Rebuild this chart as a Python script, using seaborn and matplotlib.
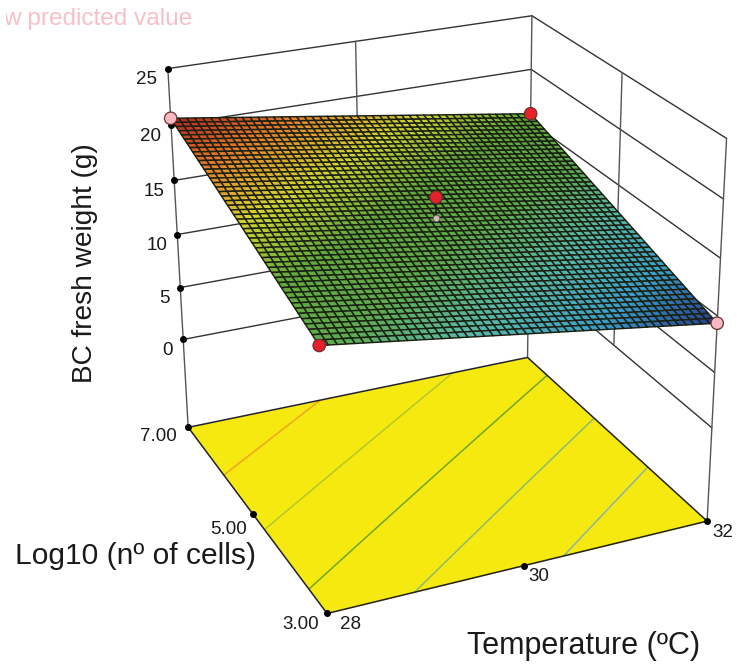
import numpy as np
import matplotlib
matplotlib.use("Agg")
import matplotlib.pyplot as plt
import matplotlib.transforms as mtrans
from mpl_toolkits.mplot3d import proj3d
import seaborn as sns

sns.set_theme(style="white")
plt.rcParams['font.family'] = ['Liberation Sans', 'DejaVu Sans']

# values
temp_ticks = [28, 30, 32]
cell_ticks = [3.0, 5.0, 7.0]
weight_ticks = [0, 5, 10, 15, 20, 25]
floor_z = -8.71

# surface height at the four corners
corner_temp = [28, 32]
corner_cells = [3.0, 7.0]
corner_weight = [[14.27, 9.37], [20.61, 15.79]]  # rows = cells, cols = temperature

# design points
point_temp = [28, 28, 32, 32, 30]
point_cells = [7.0, 3.0, 7.0, 3.0, 5.0]
point_weight = [20.61, 14.27, 15.79, 9.37, 16.80]
point_colors = ['#f6b9c2', '#e8202c', '#e8202c', '#f6b9c2', '#e8202c']
center_predicted = 15.01

contour_levels = [11.3, 13.2, 15.0, 16.9, 18.8]
contour_colors = ['#8cb4a8', '#8cbc6c', '#6fa62c', '#b4c82c', '#f0a424']

surface_cmap = sns.blend_palette(['#263a8c', '#3aa0cc', '#58b8a8', '#5eaa4c', '#62a83c',
                                  '#d4d42c', '#e88028', '#b82020'], as_cmap=True)

fig = plt.figure(figsize=(7.37, 6.65), dpi=100, facecolor='white')
ax = fig.add_subplot(projection='3d', computed_zorder=False)
ax.set_xlim(28, 32)
ax.set_ylim(3, 7)
ax.set_zlim(floor_z, 25)
ax.view_init(24.692, -113.978, 0.319)
ax.set_proj_type('persp', focal_length=0.623)
ax.set_box_aspect((1.004, 1, 1.004))
ax.set_position([85.5 / 737, 19.9 / 665, 683.6 / 737, 683.6 / 665])
ax.set_axis_off()

line_color = '#333333'

# back walls
for z in weight_ticks:
    ax.plot([28, 32], [7, 7], [z, z], color=line_color, lw=1, zorder=1)
    ax.plot([32, 32], [7, 3], [z, z], color=line_color, lw=1, zorder=1)
ax.plot([30, 30], [7, 7], [0, 25], color='#555555', lw=1, zorder=1)
ax.plot([32, 32], [5, 5], [0, 25], color='#555555', lw=1, zorder=1)
for t, c in [(28, 7), (32, 7), (32, 3)]:
    ax.plot([t, t], [c, c], [floor_z, 25], color='#555555', lw=1, zorder=1)

# floor with contours
fx, fy = np.meshgrid(corner_temp, corner_cells)
ax.plot_surface(fx, fy, np.full(fx.shape, floor_z), color='#f5e90f', shade=False, linewidth=0, zorder=2)

# mesh of the fitted response plane, spanned between the four read corners
tt = np.linspace(28, 32, 49)
cc = np.linspace(3, 7, 49)
T, C = np.meshgrid(tt, cc)
u, v = (T - 28) / 4, (C - 3) / 4
w = np.array(corner_weight)
Z = w[0, 0] * (1 - u) * (1 - v) + w[0, 1] * u * (1 - v) + w[1, 0] * (1 - u) * v + w[1, 1] * u * v

ax.contour(T, C, Z, levels=contour_levels, colors=contour_colors, offset=floor_z, linewidths=1.1, zorder=3)
ax.plot([28, 28, 32, 32, 28], [7, 3, 3, 7, 7], [floor_z] * 5, color='#222222', lw=1.1, zorder=4)

ax.plot_surface(T, C, Z, cmap=surface_cmap, vmin=9.37, vmax=20.61, rstride=1, cstride=1,
                edgecolor='#1a2010', linewidth=1.05, antialiased=True, shade=False, zorder=5)

# ticks
ax.scatter([28] * len(weight_ticks), [7] * len(weight_ticks), weight_ticks, s=16, c='black',
           depthshade=False, zorder=2)
ax.scatter([28, 28, 28, 30, 32], [7, 5, 3, 3, 3], [floor_z] * 5, s=16, c='black',
           depthshade=False, zorder=4)

# design points
ax.plot([30, 30], [5, 5], [center_predicted, point_weight[4]], color='#111111', lw=1, zorder=6)
ax.scatter([30], [5], [center_predicted], s=22, c='#d8b8b8', edgecolors='#555555', linewidths=0.5,
           depthshade=False, zorder=6)
ax.scatter(point_temp, point_cells, point_weight, s=80, c=point_colors, edgecolors='#6a3030',
           linewidths=0.9, depthshade=False, zorder=7)


def tick_label(text, x, y, z, dx, dy):
    X, Y, _ = proj3d.proj_transform(x, y, z, ax.get_proj())
    ax.annotate(text, xy=(X, Y), xytext=(dx, dy), textcoords='offset pixels', ha='center', va='center',
                fontsize=13.5, color='#1a1a1a', zorder=8, annotation_clip=False)


for z, dx in zip(weight_ticks, [-16, -16, -20, -20, -21, -21]):
    tick_label(str(z), 28, 7, z, dx, -11)
for c, dx, dy in zip(cell_ticks, [-26, -24, -30], [-11, -16, -9]):
    tick_label(f"{c:.2f}", 28, c, floor_z, dx, dy)
for t, dx in zip(temp_ticks, [23, 15, 16]):
    tick_label(str(t), t, 3, floor_z, dx, -11)

fig.text(85 / 737, 1 - 263 / 665, "BC fresh weight (g)", rotation=90, ha='center', va='center',
         fontsize=20.2, color='#1a1a1a')
fig.text(15 / 737, 1 - 556 / 665, "Log10 (nº of cells)", ha='left', va='center', fontsize=21.6, color='#1a1a1a')
fig.text(467 / 737, 1 - 646 / 665, "Temperature (ºC)", ha='left', va='center', fontsize=22, color='#1a1a1a')

note = fig.text(2.7 / 737, 1 - 19 / 665, "w predicted value", ha='left', va='center', fontsize=17.6, color='#f6c0c6')
note.set_clip_box(mtrans.Bbox([[6, 0], [737, 665]]))
note.set_clip_on(True)

fig.savefig("out.png", dpi=100)
